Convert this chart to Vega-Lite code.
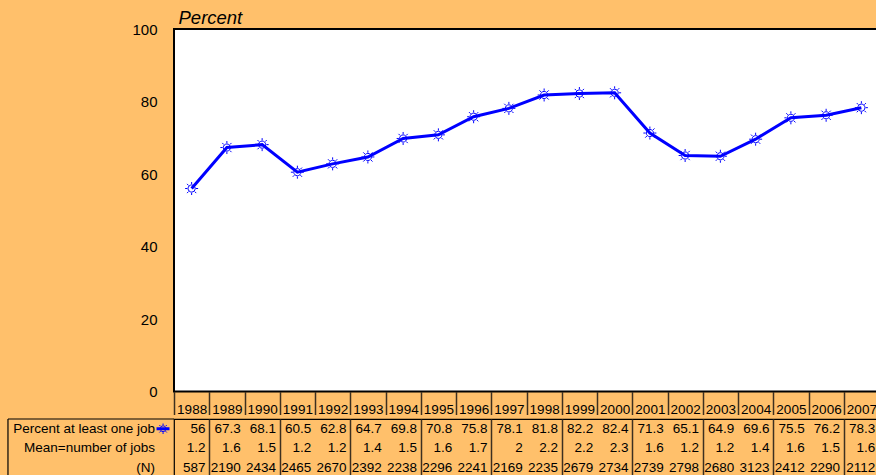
{
  "$schema": "https://vega.github.io/schema/vega-lite/v6.json",
  "background": "#FFC06B",
  "padding": {"left": 6, "top": 7, "right": 0, "bottom": 0},
  "config": {"font": "Liberation Sans", "view": {"stroke": null}},
  "datasets": {
    "jobs": [
      {"year": 1988, "pct": 56, "mean": 1.2, "n": 587},
      {"year": 1989, "pct": 67.3, "mean": 1.6, "n": 2190},
      {"year": 1990, "pct": 68.1, "mean": 1.5, "n": 2434},
      {"year": 1991, "pct": 60.5, "mean": 1.2, "n": 2465},
      {"year": 1992, "pct": 62.8, "mean": 1.2, "n": 2670},
      {"year": 1993, "pct": 64.7, "mean": 1.4, "n": 2392},
      {"year": 1994, "pct": 69.8, "mean": 1.5, "n": 2238},
      {"year": 1995, "pct": 70.8, "mean": 1.6, "n": 2296},
      {"year": 1996, "pct": 75.8, "mean": 1.7, "n": 2241},
      {"year": 1997, "pct": 78.1, "mean": 2, "n": 2169},
      {"year": 1998, "pct": 81.8, "mean": 2.2, "n": 2235},
      {"year": 1999, "pct": 82.2, "mean": 2.2, "n": 2679},
      {"year": 2000, "pct": 82.4, "mean": 2.3, "n": 2734},
      {"year": 2001, "pct": 71.3, "mean": 1.6, "n": 2739},
      {"year": 2002, "pct": 65.1, "mean": 1.2, "n": 2798},
      {"year": 2003, "pct": 64.9, "mean": 1.2, "n": 2680},
      {"year": 2004, "pct": 69.6, "mean": 1.4, "n": 3123},
      {"year": 2005, "pct": 75.5, "mean": 1.6, "n": 2412},
      {"year": 2006, "pct": 76.2, "mean": 1.5, "n": 2290},
      {"year": 2007, "pct": 78.3, "mean": 1.6, "n": 2112}
    ],
    "labels": [
      {"row": "pct", "label": "Percent at least one job"},
      {"row": "mean", "label": "Mean=number of jobs"},
      {"row": "n", "label": "(N)"}
    ]
  },
  "spacing": 0,
  "vconcat": [
    {
      "width": 705,
      "height": 362.5,
      "view": {"fill": "white", "stroke": "black", "strokeWidth": 2},
      "data": {"name": "jobs"},
      "encoding": {
        "x": {
          "field": "year", "type": "ordinal",
          "scale": {"type": "band", "paddingInner": 0, "paddingOuter": 0},
          "axis": {
            "title": null, "labelAngle": 0, "labelFontSize": 13.5, "labelColor": "black",
            "tickBand": "extent", "tickSize": 23, "tickColor": "#3d3020", "tickWidth": 1.5,
            "domain": false, "labelBaseline": "middle", "labelPadding": -5
          }
        },
        "y": {
          "field": "pct", "type": "quantitative",
          "scale": {"domain": [0, 100], "nice": false},
          "axis": {
            "values": [0, 20, 40, 60, 80, 100], "grid": false, "ticks": false, "domain": false,
            "labelFontSize": 15, "labelColor": "black", "labelPadding": 17,
            "title": "Percent", "titleAngle": 0, "titleAlign": "left", "titleBaseline": "alphabetic",
            "titleX": 4, "titleY": -6, "titleFontSize": 18.5, "titleFontStyle": "italic",
            "titleFontWeight": "normal", "titleColor": "black"
          }
        }
      },
      "layer": [
        {"mark": {"type": "line", "color": "#0000FF", "strokeWidth": 3}},
        {"mark": {"type": "point", "shape": "M0.55,0A0.55,0.55,0,1,1,-0.55,0A0.55,0.55,0,1,1,0.55,0Z M0.65,0L1,0 M-0.65,0L-1,0 M0,0.65L0,1 M0,-0.65L0,-1 M0.46,0.46L0.71,0.71 M-0.46,-0.46L-0.71,-0.71 M0.46,-0.46L0.71,-0.71 M-0.46,0.46L-0.71,0.71", "size": 169, "color": "#0000FF", "strokeWidth": 1, "filled": false, "opacity": 1}}
      ]
    },
    {
      "width": 705,
      "height": 58.5,
      "view": {"stroke": "black", "strokeWidth": 1.2},
      "layer": [
        {
          "data": {"name": "jobs"},
          "transform": [{"fold": ["pct", "mean", "n"], "as": ["row", "val"]}],
          "mark": {"type": "text", "align": "right", "dx": 14, "fontSize": 13.5, "color": "black", "baseline": "middle"},
          "encoding": {
            "x": {
              "field": "year", "type": "quantitative",
              "scale": {"domain": [1987.5, 2007.5], "nice": false, "zero": false},
              "axis": {
                "values": [1988.5, 1989.5, 1990.5, 1991.5, 1992.5, 1993.5, 1994.5, 1995.5, 1996.5, 1997.5, 1998.5, 1999.5, 2000.5, 2001.5, 2002.5, 2003.5, 2004.5, 2005.5, 2006.5],
                "grid": true, "gridColor": "#3d3020", "gridWidth": 1.5, "gridOpacity": 1,
                "labels": false, "ticks": false, "domain": false, "title": null,
                "minExtent": 0, "maxExtent": 0
              }
            },
            "y": {"field": "row", "type": "nominal", "scale": {"domain": ["pct", "mean", "n"], "paddingInner": 0, "paddingOuter": 0}, "axis": null},
            "text": {"field": "val", "type": "nominal"}
          }
        },
        {
          "data": {"name": "labels"},
          "mark": {"type": "text", "align": "right", "dx": -19, "fontSize": 13.5, "color": "black", "baseline": "middle"},
          "encoding": {
            "x": {"datum": 1987.5, "type": "quantitative"},
            "y": {"field": "row", "type": "nominal"},
            "text": {"field": "label", "type": "nominal"}
          }
        },
        {
          "data": {"values": [{"row": "pct"}]},
          "mark": {"type": "rule", "color": "black", "strokeWidth": 1.2},
          "encoding": {
            "x": {"datum": 1982.79, "type": "quantitative"},
            "x2": {"datum": 1987.5},
            "y": {"field": "row", "type": "nominal", "bandPosition": 0}
          }
        },
        {
          "data": {"values": [{"row": "pct"}]},
          "mark": {"type": "rule", "color": "black", "strokeWidth": 1.2},
          "encoding": {
            "x": {"datum": 1982.79, "type": "quantitative"}
          }
        },
        {
          "data": {"values": [{"row": "pct"}]},
          "mark": {"type": "rule", "color": "#0000FF", "strokeWidth": 3},
          "encoding": {
            "x": {"datum": 1987.004, "type": "quantitative"},
            "x2": {"datum": 1987.372},
            "y": {"field": "row", "type": "nominal"}
          }
        },
        {
          "data": {"values": [{"row": "pct"}]},
          "mark": {"type": "point", "shape": "M0.55,0A0.55,0.55,0,1,1,-0.55,0A0.55,0.55,0,1,1,0.55,0Z M0.65,0L1,0 M-0.65,0L-1,0 M0,0.65L0,1 M0,-0.65L0,-1 M0.46,0.46L0.71,0.71 M-0.46,-0.46L-0.71,-0.71 M0.46,-0.46L0.71,-0.71 M-0.46,0.46L-0.71,0.71", "size": 110, "color": "#0000FF", "strokeWidth": 1, "filled": false, "opacity": 1},
          "encoding": {
            "x": {"datum": 1987.19, "type": "quantitative"},
            "y": {"field": "row", "type": "nominal"}
          }
        }
      ]
    }
  ]
}
